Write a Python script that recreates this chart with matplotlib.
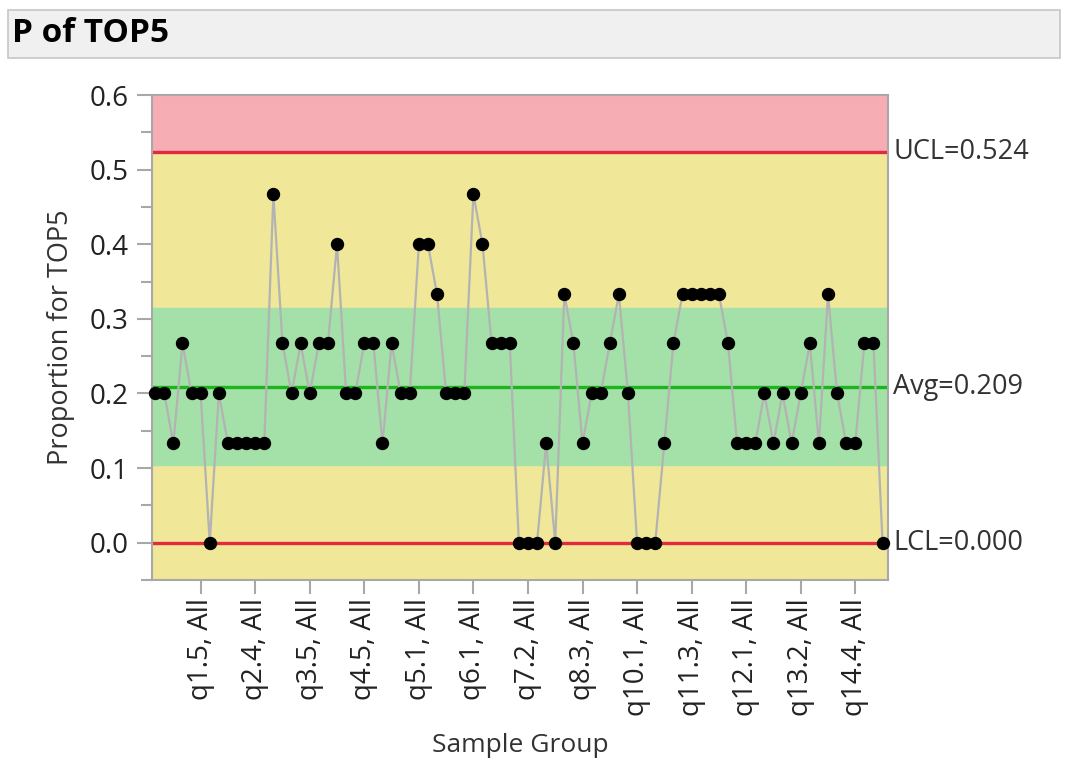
import numpy as np
import matplotlib
matplotlib.use('Agg')
import matplotlib.pyplot as plt
from matplotlib.patches import Rectangle

plt.rcParams['font.family'] = ['Open Sans', 'DejaVu Sans']

# proportions per sample group (n = 15)
proportions = [0.200, 0.200, 0.133, 0.267, 0.200, 0.200, 0.000, 0.200, 0.133, 0.133,
               0.133, 0.133, 0.133, 0.467, 0.267, 0.200, 0.267, 0.200, 0.267, 0.267,
               0.400, 0.200, 0.200, 0.267, 0.267, 0.133, 0.267, 0.200, 0.200, 0.400,
               0.400, 0.333, 0.200, 0.200, 0.200, 0.467, 0.400, 0.267, 0.267, 0.267,
               0.000, 0.000, 0.000, 0.133, 0.000, 0.333, 0.267, 0.133, 0.200, 0.200,
               0.267, 0.333, 0.200, 0.000, 0.000, 0.000, 0.133, 0.267, 0.333, 0.333,
               0.333, 0.333, 0.333, 0.267, 0.133, 0.133, 0.133, 0.200, 0.133, 0.200,
               0.133, 0.200, 0.267, 0.133, 0.333, 0.200, 0.133, 0.133, 0.267, 0.267,
               0.000]
tick_labels = ['q1.5, All', 'q2.4, All', 'q3.5, All', 'q4.5, All', 'q5.1, All',
               'q6.1, All', 'q7.2, All', 'q8.3, All', 'q10.1, All', 'q11.3, All',
               'q12.1, All', 'q13.2, All', 'q14.4, All']
tick_idx = [5, 11, 17, 23, 29, 35, 41, 47, 53, 59, 65, 71, 77]
ucl = 0.524
avg = 0.209
lcl = 0.000
sigma = (ucl - avg) / 3

fig = plt.figure(figsize=(10.65, 7.6), dpi=100)

# title bar
fig.patches.append(Rectangle((8/1065, 1-58/760), 1052/1065, 48/760, transform=fig.transFigure,
                             facecolor='#f0f0f0', edgecolor='#c6c6c6', lw=1.2, zorder=0))
fig.text(12/1065, 1-34/760, 'P of TOP5', fontsize=24, fontweight='bold', va='center', ha='left')

ax = fig.add_axes([152/1065, 1-580/760, 736/1065, 485/760])
x = np.arange(len(proportions))

ax.axhspan(-0.05, 0.6, color='#f0e898', zorder=0)
ax.axhspan(ucl, 0.6, color='#f6adb4', zorder=0)
ax.axhspan(avg - sigma, avg + sigma, color='#a3e1a9', zorder=0)
ax.axhline(ucl, color='#e2293d', lw=2.4, zorder=1)
ax.axhline(lcl, color='#e2293d', lw=2.4, zorder=1)
ax.axhline(avg, color='#1db41d', lw=2.4, zorder=1)

ax.plot(x, proportions, color='#b3b3b3', lw=1.6, zorder=2)
ax.plot(x, proportions, 'o', color='black', ms=8.6, zorder=3, clip_on=False)

ax.set_xlim(-0.35, 80.6)
ax.set_ylim(-0.05, 0.6)
ax.set_yticks(np.arange(0, 0.61, 0.1))
ax.set_yticklabels(['%.1f' % v for v in np.arange(0, 0.61, 0.1)])
ax.set_yticks(np.arange(-0.05, 0.6, 0.1), minor=True)
ax.set_xticks(tick_idx)
ax.set_xticklabels(tick_labels, rotation=90)

for s in ax.spines.values():
    s.set_color('#a8a8a8')
    s.set_linewidth(1.5)
ax.tick_params(axis='both', which='major', color='#a8a8a8', width=1.5, labelsize=20, labelcolor='#222222')
ax.tick_params(axis='y', which='major', length=11, pad=6)
ax.tick_params(axis='y', which='minor', length=8, width=1.5, color='#a8a8a8')
ax.tick_params(axis='x', which='major', length=10, pad=3)

ax.set_ylabel('Proportion for TOP5', fontsize=19.5, color='#333333', labelpad=10)
ax.set_xlabel('Sample Group', fontsize=19, color='#333333', labelpad=12)

for val, txt in [(ucl, 'UCL=0.524'), (avg, 'Avg=0.209'), (lcl, 'LCL=0.000')]:
    ax.text(1.007, val, txt, transform=ax.get_yaxis_transform(), fontsize=19.5,
            color='#333333', va='center', ha='left')

fig.savefig('out.png', dpi=100)
